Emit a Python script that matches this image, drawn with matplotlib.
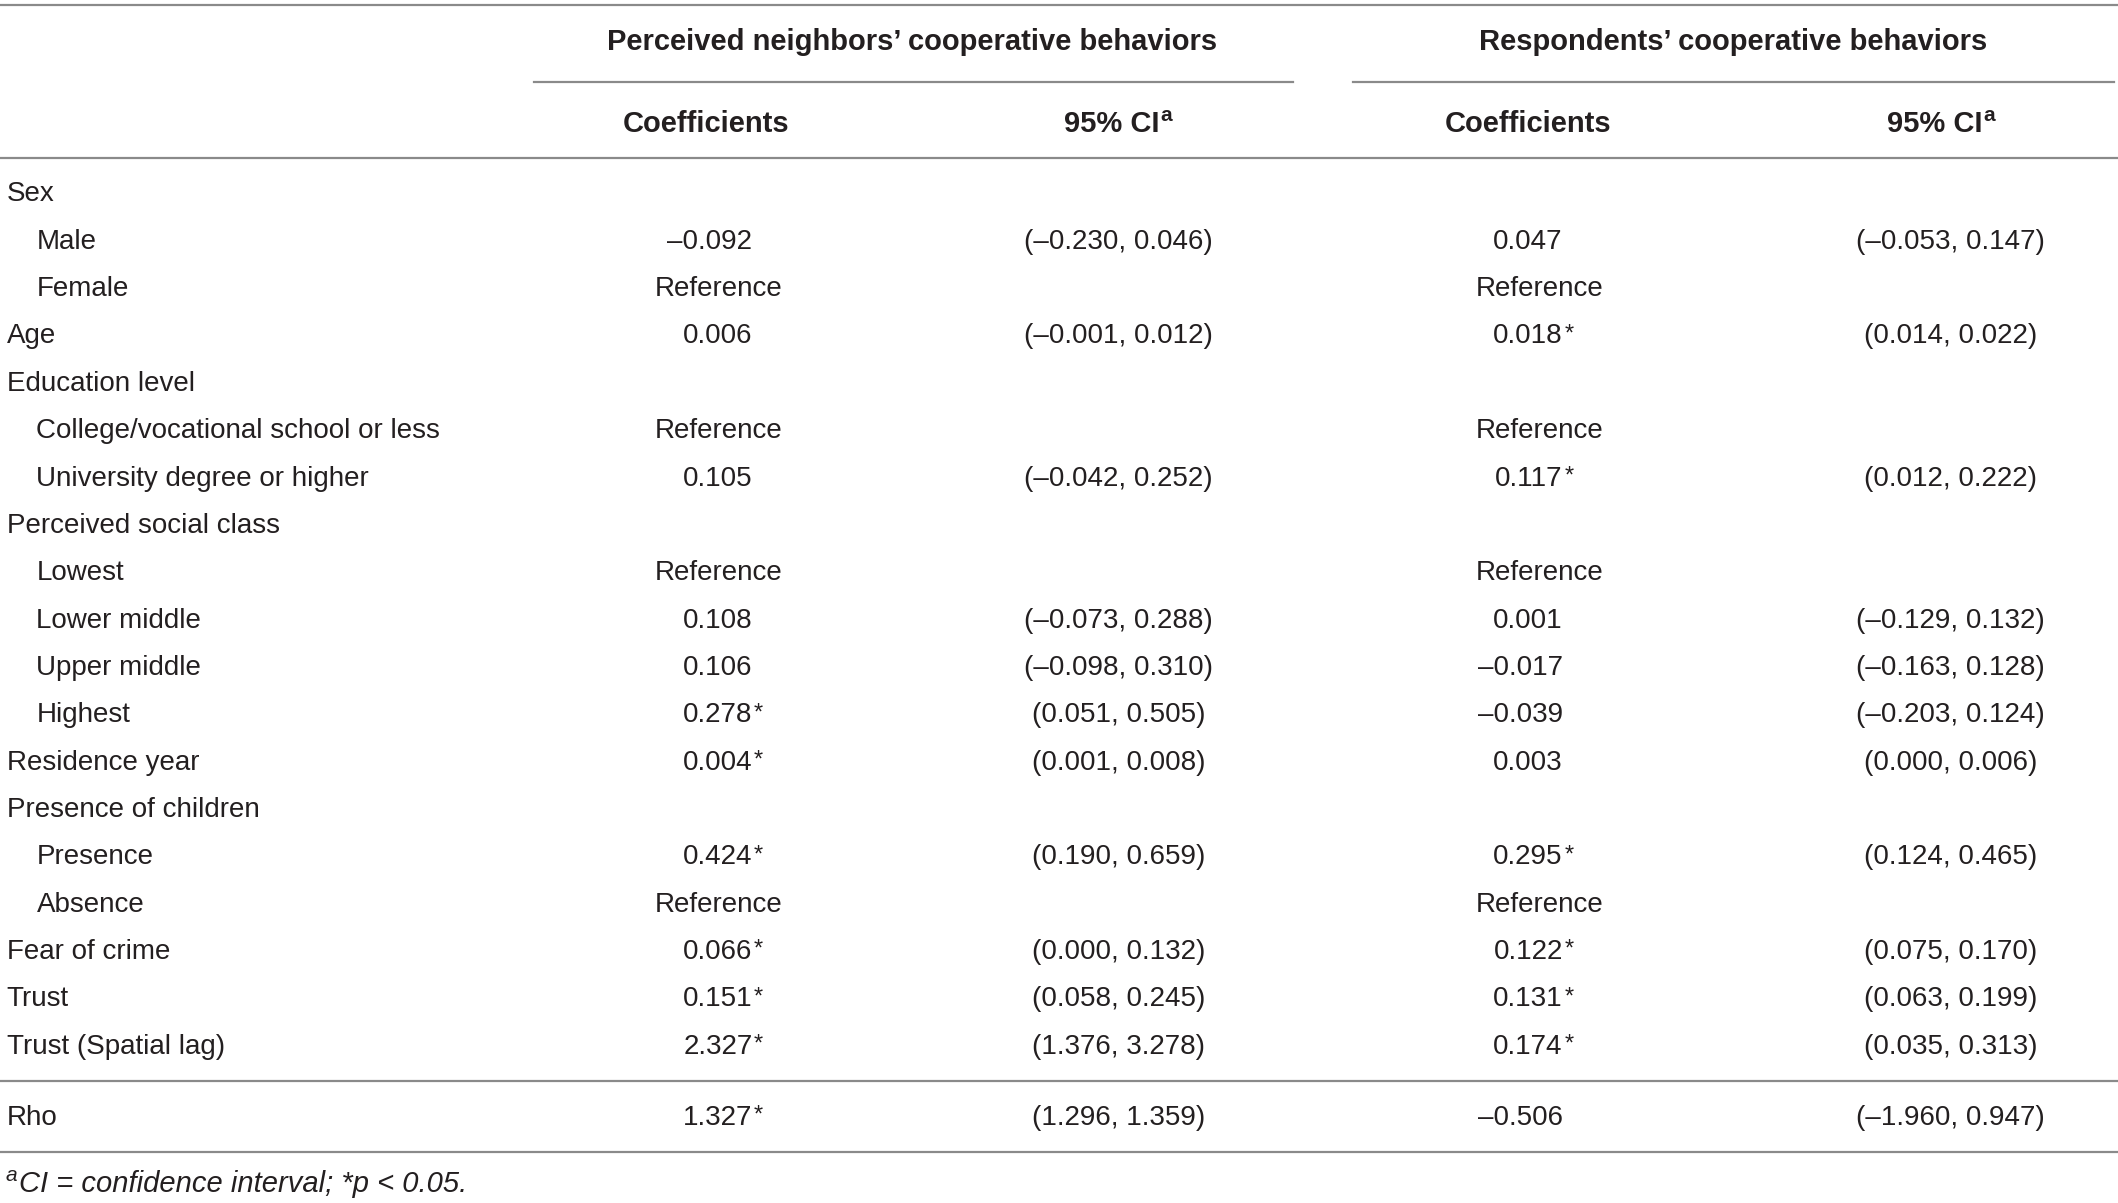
import matplotlib.pyplot as plt

# row labels and indent level (0 = group, 1 = sub-item)
row_labels = ["Sex", "Male", "Female", "Age", "Education level",
              "College/vocational school or less", "University degree or higher",
              "Perceived social class", "Lowest", "Lower middle", "Upper middle",
              "Highest", "Residence year", "Presence of children", "Presence",
              "Absence", "Fear of crime", "Trust", "Trust (Spatial lag)"]
row_indent = [0, 1, 1, 0, 0, 1, 1, 0, 1, 1, 1, 1, 0, 0, 1, 1, 0, 0, 0]

coef_neighbors = ["", "–0.092", "Reference", "0.006", "", "Reference", "0.105", "",
                  "Reference", "0.108", "0.106", "0.278*", "0.004*", "", "0.424*",
                  "Reference", "0.066*", "0.151*", "2.327*"]
ci_neighbors = ["", "(–0.230, 0.046)", "", "(–0.001, 0.012)", "", "", "(–0.042, 0.252)", "",
                "", "(–0.073, 0.288)", "(–0.098, 0.310)", "(0.051, 0.505)", "(0.001, 0.008)", "",
                "(0.190, 0.659)", "", "(0.000, 0.132)", "(0.058, 0.245)", "(1.376, 3.278)"]
coef_respondents = ["", "0.047", "Reference", "0.018*", "", "Reference", "0.117*", "",
                    "Reference", "0.001", "–0.017", "–0.039", "0.003", "", "0.295*",
                    "Reference", "0.122*", "0.131*", "0.174*"]
ci_respondents = ["", "(–0.053, 0.147)", "", "(0.014, 0.022)", "", "", "(0.012, 0.222)", "",
                  "", "(–0.129, 0.132)", "(–0.163, 0.128)", "(–0.203, 0.124)", "(0.000, 0.006)", "",
                  "(0.124, 0.465)", "", "(0.075, 0.170)", "(0.063, 0.199)", "(0.035, 0.313)"]

rho_label = "Rho"
rho_values = ["1.327*", "(1.296, 1.359)", "–0.506", "(–1.960, 0.947)"]

group_titles = ["Perceived neighbors’ cooperative behaviors", "Respondents’ cooperative behaviors"]
sub_titles = ["Coefficients", "95% CI"]
footnote = "CI = confidence interval; *p < 0.05."

FONT = ["Liberation Sans", "DejaVu Sans"]
FS = 20
FS_HEAD = 21
TXT = "#231f20"
LINE = "#8a8a8a"

fig = plt.figure(figsize=(21.18, 12.03), dpi=100)
ax = fig.add_axes([0, 0, 1, 1])
ax.set_xlim(0, 1568)
ax.set_ylim(891, 0)
ax.axis("off")


def txt(x, y, s, ha="left", **kw):
    kw.setdefault("fontsize", FS)
    kw.setdefault("color", TXT)
    return ax.text(x, y, s, ha=ha, va="center", family=FONT, **kw)


def coef(x_end, x_ref, y, s):
    # numbers line up on the digits, stars hang to the right
    if s == "":
        return
    if s == "Reference":
        txt(x_ref, y, s, ha="center")
        return
    star = s.endswith("*")
    t = txt(x_end, y, s.rstrip("*"), ha="right")
    if star:
        ax.annotate("*", xy=(1, 1), xycoords=t, xytext=(1, 0), textcoords="offset points",
                    ha="left", va="top", fontsize=17, color=TXT, family=FONT)


# rules
ax.plot([0, 1568], [4, 4], color=LINE, lw=1.6)
ax.plot([395, 957], [61, 61], color=LINE, lw=1.6)
ax.plot([1002, 1565], [61, 61], color=LINE, lw=1.6)
ax.plot([0, 1568], [117, 117], color=LINE, lw=1.6)
ax.plot([0, 1568], [801, 801], color=LINE, lw=1.6)
ax.plot([0, 1568], [853, 853], color=LINE, lw=1.6)

# headers
for cx, title in zip([675, 1283], group_titles):
    txt(cx, 31, title, ha="center", fontweight="bold", fontsize=FS_HEAD)
for cx_coef, cx_ci in [(523, 823), (1131, 1432)]:
    txt(cx_coef, 92, sub_titles[0], ha="center", fontweight="bold", fontsize=FS_HEAD)
    t = txt(cx_ci, 92, sub_titles[1], ha="center", fontweight="bold", fontsize=FS_HEAD)
    ax.annotate("a", xy=(1, 1), xycoords=t, xytext=(1, 3), textcoords="offset points",
                ha="left", va="top", fontsize=15, fontweight="bold", color=TXT, family=FONT)

# body
row_y = 144
for i, label in enumerate(row_labels):
    y = row_y + 35.07 * i
    txt(5 + 22 * row_indent[i], y, label)
    coef(557, 532, y, coef_neighbors[i])
    if ci_neighbors[i]:
        txt(828, y, ci_neighbors[i], ha="center")
    coef(1157, 1140, y, coef_respondents[i])
    if ci_respondents[i]:
        txt(1444, y, ci_respondents[i], ha="center")

# rho row
txt(5, 828, rho_label)
coef(557, 532, 828, rho_values[0])
txt(828, 828, rho_values[1], ha="center")
coef(1157, 1140, 828, rho_values[2])
txt(1444, 828, rho_values[3], ha="center")

# footnote
txt(4, 871, "a", fontsize=15, style="italic")
txt(14, 877, footnote, style="italic", fontsize=21)

fig.savefig("out.png", dpi=100)
